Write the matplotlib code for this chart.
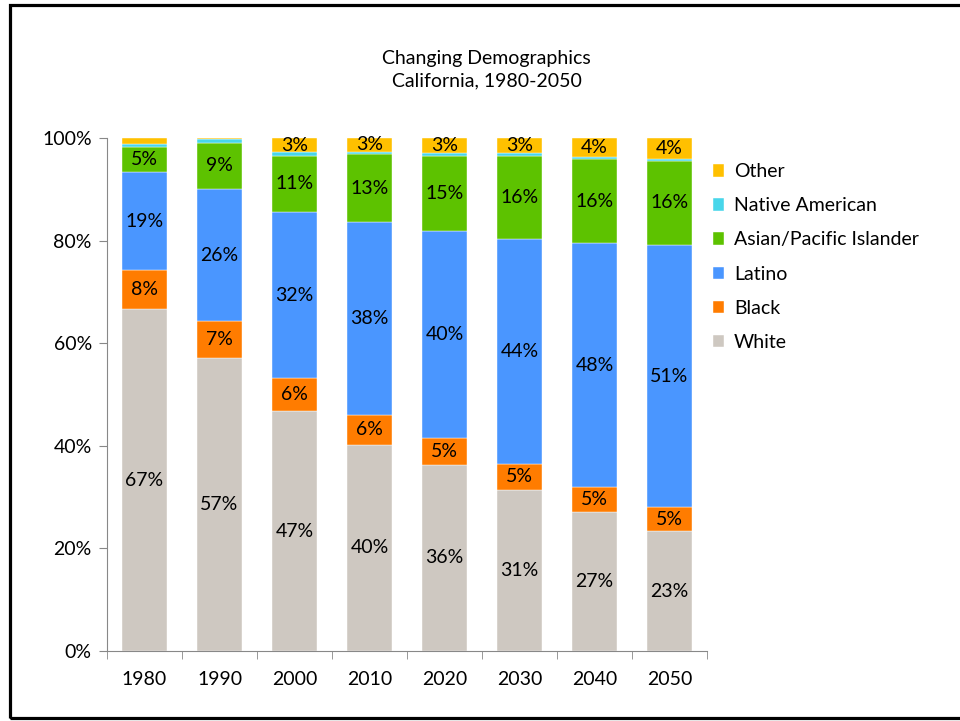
import numpy as np
import matplotlib.pyplot as plt
from matplotlib.patches import Rectangle
from matplotlib.ticker import FuncFormatter, FixedLocator

plt.rcParams['font.family'] = ['Lato', 'DejaVu Sans']

years = ["1980", "1990", "2000", "2010", "2020", "2030", "2040", "2050"]
groups = ["White", "Black", "Latino", "Asian/Pacific Islander", "Native American", "Other"]
white = [66.6, 57.2, 46.8, 40.2, 36.3, 31.4, 27.2, 23.4]
black = [7.6, 7.1, 6.4, 5.8, 5.3, 5.1, 4.7, 4.6]
latino = [19.2, 25.8, 32.4, 37.6, 40.2, 43.8, 47.6, 51.2]
asian = [4.9, 9.0, 11.0, 13.2, 14.8, 16.2, 16.4, 16.4]
native = [0.6, 0.7, 0.6, 0.5, 0.5, 0.5, 0.4, 0.4]
other = [1.1, 0.2, 2.8, 2.7, 2.9, 3.0, 3.7, 4.0]
colors = ["#CEC8C1", "#FF7C00", "#4A96FF", "#5DC200", "#48D6EA", "#FFC000"]

series = [white, black, latino, asian, native, other]
fs = 14

fig = plt.figure(figsize=(9.6, 7.21), dpi=100)
ax = fig.add_axes([0.1115, 0.097, 0.625, 0.7115])

x = np.arange(len(years))
bottom = np.zeros(len(years))
handles = []
for name, vals, col in zip(groups, series, colors):
    vals = np.array(vals)
    bars = ax.bar(x, vals, 0.59, bottom=bottom, color=col, label=name,
                  edgecolor="white", linewidth=0.3)
    handles.append(bars)
    if name != "Native American":
        for xi, v, b in zip(x, vals, bottom):
            if v >= 2:
                ax.text(xi, b + v / 2, f"{round(v):.0f}%", ha="center", va="center",
                        fontsize=fs, color="black")
    bottom += vals

ax.set_xlim(-0.5, len(years) - 0.5)
ax.set_ylim(0, 100)
ax.set_xticks(x)
ax.set_xticklabels(years, fontsize=fs)
ax.xaxis.set_minor_locator(FixedLocator(np.arange(-0.5, len(years), 1)))
ax.tick_params(axis="x", which="major", length=0, pad=14)
ax.tick_params(axis="x", which="minor", length=6, color="#888888", direction="out")
ax.set_yticks(np.arange(0, 101, 20))
ax.yaxis.set_major_formatter(FuncFormatter(lambda v, p: f"{v:.0f}%"))
ax.tick_params(axis="y", length=6, color="#888888", labelsize=fs, pad=5)
for s in ["top", "right"]:
    ax.spines[s].set_visible(False)
for s in ["left", "bottom"]:
    ax.spines[s].set_color("#888888")

ax.legend(handles[::-1], groups[::-1], loc="upper left", bbox_to_anchor=(0.98, 0.985),
          frameon=False, fontsize=fs, handlelength=0.6, handleheight=0.6,
          handletextpad=0.5, labelspacing=0.88)

fig.text(0.507, 0.903, "Changing Demographics\nCalifornia, 1980-2050", ha="center",
         va="center", fontsize=fs, linespacing=1.4)

fig.patches.append(Rectangle((9.5 / 960, 3 / 721), 1.0, 1 - 7.5 / 721,
                             transform=fig.transFigure, fill=False,
                             edgecolor="black", linewidth=2.3))

fig.savefig("out.png", dpi=100)
